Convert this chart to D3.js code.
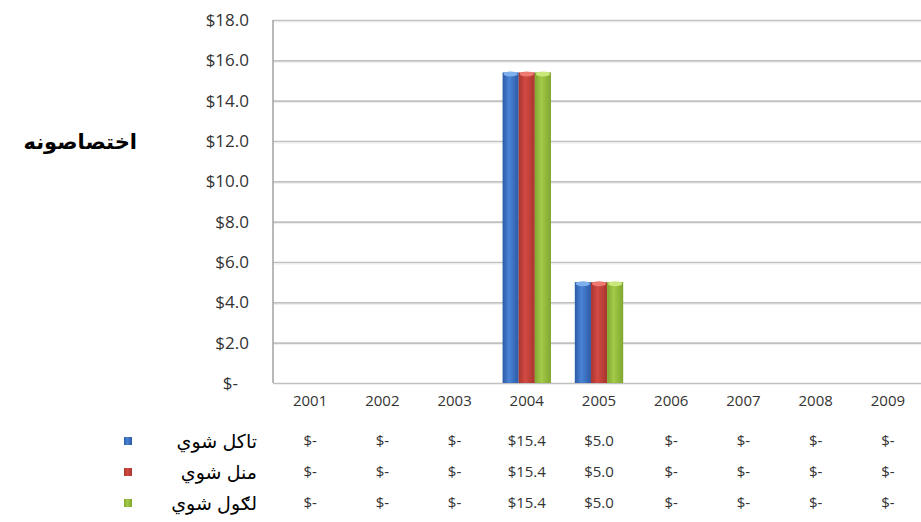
<!DOCTYPE html>
<html>
<head>
<meta charset="utf-8">
<script src="https://cdn.jsdelivr.net/npm/d3@7"></script>
<style>
  html, body { margin: 0; padding: 0; background: #fff; }
  svg { display: block; }
</style>
</head>
<body>
<svg id="chart" width="921" height="522"></svg>
<script>
// ---- data ----
const categories = ["2001", "2002", "2003", "2004", "2005", "2006", "2007", "2008", "2009"];
const seriesNames = ["تاکل شوي", "منل شوي", "لګول شوي"];
const plannedValues = [0, 0, 0, 15.4, 5.0, 0, 0, 0, 0];
const approvedValues = [0, 0, 0, 15.4, 5.0, 0, 0, 0, 0];
const spentValues = [0, 0, 0, 15.4, 5.0, 0, 0, 0, 0];
const yTickValues = [0, 2, 4, 6, 8, 10, 12, 14, 16, 18];
const yTitle = "اختصاصونه";

const seriesValues = [plannedValues, approvedValues, spentValues];
const seriesColors = [
  { dark: "#2c5aa6", mid: "#4a84d6", cap: "#7fb0ee" },
  { dark: "#a8362f", mid: "#d24a43", cap: "#ee7a72" },
  { dark: "#7fa630", mid: "#a4ca48", cap: "#c9e77a" }
];

const fmt = v => v === 0 ? "$-" : "$" + v.toFixed(1);

const svg = d3.select("#chart");
const plotLeft = 274, plotRight = 924, plotTop = 20, plotBottom = 383;

const x = d3.scaleBand().domain(categories).range([plotLeft, plotRight]);
const xs = d3.scaleBand().domain(d3.range(seriesNames.length))
  .range([x.bandwidth() * 0.165, x.bandwidth() * 0.835]);
const y = d3.scaleLinear().domain([0, 18]).range([plotBottom, plotTop]);

// gradients
const defs = svg.append("defs");
seriesColors.forEach((c, i) => {
  const g = defs.append("linearGradient").attr("id", "g" + i)
    .attr("x1", "0").attr("x2", "1").attr("y1", "0").attr("y2", "0");
  g.append("stop").attr("offset", "0%").attr("stop-color", c.dark);
  g.append("stop").attr("offset", "40%").attr("stop-color", c.mid);
  g.append("stop").attr("offset", "100%").attr("stop-color", c.dark);
});

// gridlines
const grid = svg.append("g").attr("transform", `translate(${plotLeft - 1},0)`)
  .call(d3.axisLeft(y).tickValues(yTickValues).tickSize(-(921 - plotLeft + 1)).tickFormat(""));
grid.select(".domain").remove();
grid.selectAll("line").attr("stroke", "#c0c0c0").attr("stroke-width", 1.7);
const grid2 = svg.append("g").attr("transform", `translate(${plotLeft - 1},1.5)`)
  .call(d3.axisLeft(y).tickValues(yTickValues.slice(1)).tickSize(-(921 - plotLeft + 1)).tickFormat(""));
grid2.select(".domain").remove();
grid2.selectAll("line").attr("stroke", "#ececec").attr("stroke-width", 1);

// left axis line
svg.append("line").attr("x1", plotLeft - 1).attr("x2", plotLeft - 1).attr("y1", y(18)).attr("y2", y(0))
  .attr("stroke", "#a8a8a8").attr("stroke-width", 1.6);

// y tick labels
const yAx = svg.append("g").attr("transform", `translate(249,0)`)
  .call(d3.axisLeft(y).tickValues(yTickValues).tickSize(0).tickPadding(0).tickFormat(fmt));
yAx.select(".domain").remove();
yAx.selectAll("text")
  .attr("font-family", "'Open Sans', 'DejaVu Sans', sans-serif")
  .attr("font-size", 17)
  .attr("fill", "#333")
  .attr("dx", d => d === 0 ? -11 : 0);

// bars
const groups = svg.append("g").selectAll("g").data(categories).join("g")
  .attr("transform", d => `translate(${x(d)},0)`);
seriesValues.forEach((vals, si) => {
  groups.filter((d, i) => vals[i] > 0).each(function (d) {
    const i = categories.indexOf(d);
    const v = vals[i];
    const g = d3.select(this);
    g.append("rect")
      .attr("x", xs(si)).attr("width", xs.bandwidth())
      .attr("y", y(v)).attr("height", y(0) - y(v))
      .attr("fill", `url(#g${si})`);
    g.append("ellipse")
      .attr("cx", xs(si) + xs.bandwidth() / 2).attr("cy", y(v) + 1.5)
      .attr("rx", xs.bandwidth() / 2 - 1).attr("ry", 2.5)
      .attr("fill", seriesColors[si].cap);
  });
});

// x axis labels (category row of data table)
const xAx = svg.append("g").attr("transform", `translate(0,${plotBottom + 12})`)
  .call(d3.axisBottom(x).tickSize(0).tickPadding(0));
xAx.select(".domain").remove();
xAx.selectAll("text")
  .attr("font-family", "'Open Sans', 'DejaVu Sans', sans-serif")
  .attr("font-size", 15)
  .attr("fill", "#333");

// data table rows
const rowY = d3.scalePoint().domain(d3.range(seriesNames.length)).range([441, 503]);
seriesValues.forEach((vals, si) => {
  const row = svg.append("g");
  row.selectAll("text.v").data(vals).join("text")
    .attr("class", "v")
    .attr("x", (d, i) => x(categories[i]) + x.bandwidth() / 2)
    .attr("y", rowY(si))
    .attr("dy", "0.35em")
    .attr("text-anchor", "middle")
    .attr("font-family", "'Open Sans', 'DejaVu Sans', sans-serif")
    .attr("font-size", 15)
    .attr("fill", "#333")
    .text(fmt);
  row.append("rect")
    .attr("x", 124).attr("y", rowY(si) - 4).attr("width", 8).attr("height", 8)
    .attr("fill", `url(#g${si})`);
  row.append("text")
    .attr("x", 257).attr("y", rowY(si)).attr("dy", "0.35em")
    .attr("text-anchor", "end")
    .attr("font-family", "Arial, 'Liberation Sans', 'DejaVu Sans', sans-serif")
    .attr("font-size", 19)
    .attr("fill", "#000")
    .text(seriesNames[si]);
});

// y title
svg.append("text")
  .attr("x", 137).attr("y", 142).attr("dy", "0.35em")
  .attr("text-anchor", "end")
  .attr("font-family", "Arial, 'Liberation Sans', 'DejaVu Sans', sans-serif")
  .attr("font-weight", "bold")
  .attr("font-size", 21)
  .attr("fill", "#000")
  .text(yTitle);
</script>
</body>
</html>
